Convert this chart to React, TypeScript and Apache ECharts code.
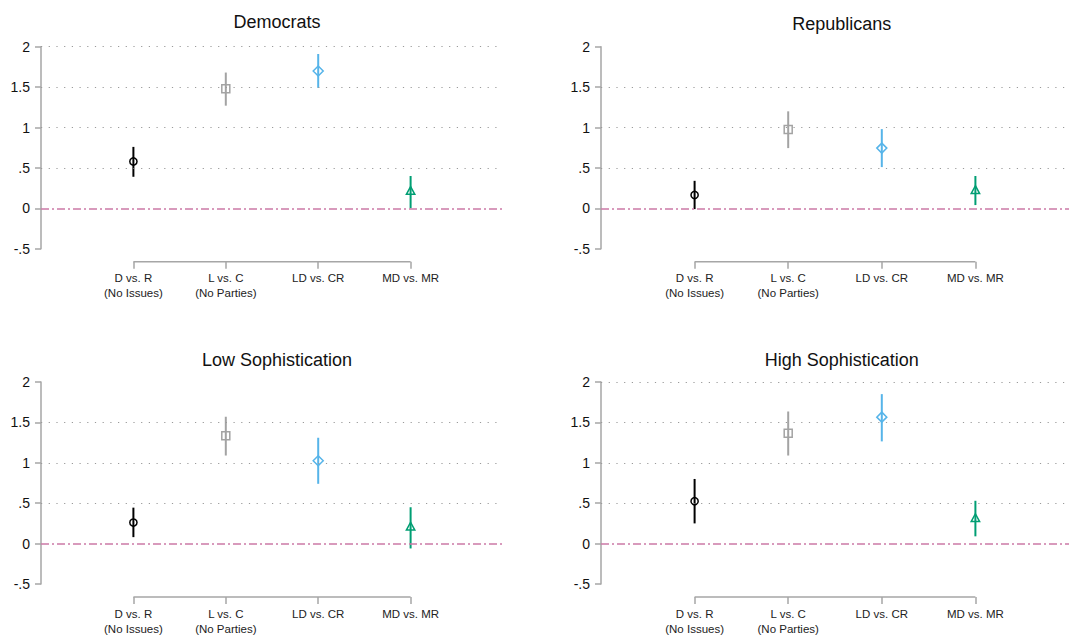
import React, { useEffect, useRef } from "react";
import * as echarts from "echarts";

// ---------- data ----------
const categories = ["D vs. R\n(No Issues)", "L vs. C\n(No Parties)", "LD vs. CR", "MD vs. MR"];
const categoryPositions = [1, 2, 3, 4];
const panelTitles = ["Democrats", "Republicans", "Low Sophistication", "High Sophistication"];

const demEst = [0.58, 1.48, 1.70, 0.21];
const demLo = [0.39, 1.27, 1.49, 0.0];
const demHi = [0.76, 1.68, 1.91, 0.40];

const repEst = [0.165, 0.975, 0.745, 0.22];
const repLo = [-0.01, 0.745, 0.51, 0.04];
const repHi = [0.34, 1.2, 0.98, 0.40];

const lowEst = [0.26, 1.335, 1.025, 0.205];
const lowLo = [0.08, 1.09, 0.74, -0.06];
const lowHi = [0.445, 1.57, 1.31, 0.45];

const highEst = [0.525, 1.365, 1.565, 0.31];
const highLo = [0.25, 1.09, 1.265, 0.09];
const highHi = [0.8, 1.635, 1.85, 0.53];

const yTickValues = [-0.5, 0, 0.5, 1, 1.5, 2];
const yTickLabels = ["-.5", "0", ".5", "1", "1.5", "2"];

const demGrid = [2, 1.5, 1, 0.5];
const repGrid = [1.5, 1, 0.5];
const lowGrid = [1.5, 1, 0.5];
const highGrid = [2, 1.5, 1, 0.5];

const referenceValue = 0;

// ---------- styling ----------
const FONT = "'Liberation Sans', Arial, Helvetica, sans-serif";
const colors = ["#000000", "#a3a3a3", "#56B4E9", "#009E73"];
const AXIS_GRAY = "#a6a6a6";
const PINK = "#CC79A7";

const panels = [
  { est: demEst, lo: demLo, hi: demHi, grid: demGrid },
  { est: repEst, lo: repLo, hi: repHi, grid: repGrid },
  { est: lowEst, lo: lowLo, hi: lowHi, grid: lowGrid },
  { est: highEst, lo: highLo, hi: highHi, grid: highGrid },
];

const layout = [
  { left: 41, top: 46.7, width: 462, height: 202, titleTop: 8 },
  { left: 601, top: 46.7, width: 471.5, height: 202, titleTop: 10 },
  { left: 41, top: 382, width: 462, height: 202, titleTop: 346 },
  { left: 601, top: 382, width: 471.5, height: 202, titleTop: 346 },
];

function markerShape(k: number, cx: number, cy: number, color: string) {
  const style = { fill: "none", stroke: color, lineWidth: 1.5 };
  if (k === 0) return { type: "circle", shape: { cx, cy, r: 3.6 }, style };
  if (k === 1) return { type: "rect", shape: { x: cx - 4, y: cy - 4, width: 8, height: 8 }, style };
  if (k === 2)
    return {
      type: "polygon",
      shape: { points: [[cx, cy - 5], [cx + 5, cy], [cx, cy + 5], [cx - 5, cy]] },
      style,
    };
  return {
    type: "polygon",
    shape: { points: [[cx, cy - 4.8], [cx + 4.2, cy + 3], [cx - 4.2, cy + 3]] },
    style,
  };
}

function buildOption() {
  const grid: any[] = [];
  const xAxis: any[] = [];
  const yAxis: any[] = [];
  const series: any[] = [];
  const title: any[] = [];

  panels.forEach((p, i) => {
    const L = layout[i];
    grid.push({ left: L.left, top: L.top, width: L.width, height: L.height, containLabel: false });
    title.push({
      text: panelTitles[i],
      left: L.left + L.width / 2,
      top: L.titleTop,
      textAlign: "center",
      textStyle: { fontFamily: FONT, fontSize: 18, fontWeight: "normal", color: "#111" },
    });
    xAxis.push({
      gridIndex: i,
      type: "value",
      min: 0,
      max: 5,
      interval: 1,
      offset: 13,
      axisLine: { show: false, onZero: false },
      splitLine: { show: false },
      axisTick: {
        show: true,
        customValues: categoryPositions,
        length: 7,
        lineStyle: { color: AXIS_GRAY, width: 1.5 },
      },
      axisLabel: {
        customValues: categoryPositions,
        formatter: (v: number) => categories[categoryPositions.indexOf(v)] ?? "",
        margin: 9,
        fontSize: 11.5,
        lineHeight: 15,
        color: "#222",
        fontFamily: FONT,
      },
    });
    yAxis.push({
      gridIndex: i,
      type: "value",
      min: -0.5,
      max: 2,
      interval: 0.5,
      axisLine: { show: true, onZero: false, lineStyle: { color: AXIS_GRAY, width: 1.5 } },
      axisTick: { show: true, length: 6, lineStyle: { color: AXIS_GRAY, width: 1.5 } },
      splitLine: { show: false },
      axisLabel: {
        formatter: (v: number) => {
          const idx = yTickValues.findIndex((t) => Math.abs(t - v) < 1e-9);
          return idx >= 0 ? yTickLabels[idx] : "";
        },
        fontSize: 14,
        margin: 11,
        color: "#111",
        fontFamily: FONT,
      },
    });

    // gridlines + reference line
    series.push({
      type: "line",
      xAxisIndex: i,
      yAxisIndex: i,
      data: [],
      silent: true,
      markLine: {
        silent: true,
        symbol: ["none", "none"],
        label: { show: false },
        emphasis: { disabled: true },
        data: [
          ...p.grid.map((v) => ({
            yAxis: v,
            lineStyle: { type: [1.2, 6.5], color: "#9a9a9a", width: 1.2 },
          })),
          {
            yAxis: referenceValue,
            lineStyle: { type: [8, 3, 2, 3], color: PINK, width: 1.5 },
          },
        ],
      },
    });

    // partial x-axis line (from first to last category)
    series.push({
      type: "custom",
      xAxisIndex: i,
      yAxisIndex: i,
      clip: false,
      silent: true,
      data: [[categoryPositions[0], -0.5, categoryPositions[categoryPositions.length - 1]]],
      encode: { x: [0, 2], y: 1 },
      renderItem: (params: any, api: any) => {
        const a = api.coord([api.value(0), api.value(1)]);
        const b = api.coord([api.value(2), api.value(1)]);
        return {
          type: "line",
          shape: { x1: a[0], y1: a[1] + 13, x2: b[0], y2: b[1] + 13 },
          style: { stroke: AXIS_GRAY, lineWidth: 1.5 },
        };
      },
    });

    // estimates with confidence intervals
    series.push({
      type: "custom",
      xAxisIndex: i,
      yAxisIndex: i,
      clip: false,
      silent: true,
      data: p.est.map((e, k) => [categoryPositions[k], e, p.lo[k], p.hi[k], k]),
      encode: { x: 0, y: 1 },
      renderItem: (params: any, api: any) => {
        const x = api.value(0);
        const k = api.value(4);
        const pe = api.coord([x, api.value(1)]);
        const pl = api.coord([x, api.value(2)]);
        const ph = api.coord([x, api.value(3)]);
        const color = colors[k];
        return {
          type: "group",
          children: [
            {
              type: "line",
              shape: { x1: pl[0], y1: pl[1], x2: ph[0], y2: ph[1] },
              style: { stroke: color, lineWidth: 2 },
            },
            markerShape(k, pe[0], pe[1], color),
          ],
        };
      },
    });
  });

  return {
    animation: false,
    backgroundColor: "#ffffff",
    title,
    grid,
    xAxis,
    yAxis,
    series,
  };
}

export default function App() {
  const ref = useRef<HTMLDivElement>(null);
  useEffect(() => {
    if (!ref.current) return;
    const chart = echarts.init(ref.current, undefined, { renderer: "svg" });
    chart.setOption(buildOption() as any);
    return () => chart.dispose();
  }, []);
  return (
    <div
      ref={ref}
      style={{ position: "fixed", left: 0, top: 0, width: 1069, height: 637, background: "#fff" }}
    />
  );
}
